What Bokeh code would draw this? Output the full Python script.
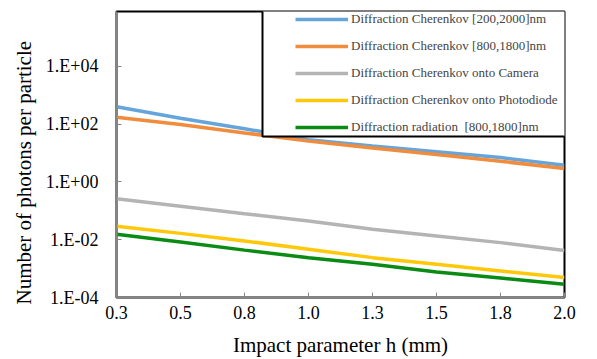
from bokeh.plotting import figure
from bokeh.models import (FixedTicker, CustomJSTickFormatter, Legend, LegendItem,
                          BoxAnnotation, Range1d, Title)
from bokeh.embed import file_html
from bokeh.resources import INLINE

# ---- data ----
h_mm = [0.25, 0.5, 0.75, 1.0, 1.25, 1.5, 1.75, 2.0]
cherenkov_200_2000 = [400, 160, 70, 29, 17.5, 11.2, 7.0, 3.8]
cherenkov_800_1800 = [174, 98, 50, 26, 15, 8.9, 5.2, 2.95]
cherenkov_camera = [0.263, 0.145, 0.0794, 0.0447, 0.0229, 0.0135, 0.00794, 0.00427]
cherenkov_photodiode = [0.0295, 0.0166, 0.00912, 0.00468, 0.0024, 0.00141, 0.000832, 0.00049]
diffraction_radiation = [0.0155, 0.0083, 0.00437, 0.0024, 0.00141, 0.00076, 0.00047, 0.00029]

series_names = [
    "Diffraction Cherenkov [200,2000]nm",
    "Diffraction Cherenkov [800,1800]nm",
    "Diffraction Cherenkov onto Camera",
    "Diffraction Cherenkov onto Photodiode",
    "Diffraction radiation  [800,1800]nm",
]
series_colors = ["#65A5DB", "#F08C3C", "#B4B4B4", "#FFC80A", "#0A8C14"]

x_ticks = [0.25, 0.5, 0.75, 1.0, 1.25, 1.5, 1.75, 2.0]
x_tick_labels = ["0.3", "0.5", "0.8", "1.0", "1.3", "1.5", "1.8", "2.0"]
y_ticks = [1e-4, 1e-2, 1.0, 1e2, 1e4]
y_tick_labels = ["1.E-04", "1.E-02", "1.E+00", "1.E+02", "1.E+04"]

FONT = "Liberation Serif"

p = figure(width=597, height=359, output_backend="svg", toolbar_location=None,
           y_axis_type="log",
           x_range=Range1d(0.25, 2.0), y_range=Range1d(1e-4, 8e5),
           min_border_left=116, min_border_right=33, min_border_top=11,
           min_border_bottom=61)
p.background_fill_color = "white"
p.border_fill_color = "white"
p.outline_line_color = "black"
p.outline_line_width = 2
p.xgrid.visible = False
p.ygrid.visible = False

all_series = [cherenkov_200_2000, cherenkov_800_1800, cherenkov_camera,
              cherenkov_photodiode, diffraction_radiation]
renderers = []
for ys, c in zip(all_series, series_colors):
    r = p.line(h_mm, ys, line_color=c, line_width=3.5)
    renderers.append(r)

# axes
p.xaxis.ticker = FixedTicker(ticks=x_ticks)
p.xaxis.formatter = CustomJSTickFormatter(
    args=dict(tvals=x_ticks, tlabels=x_tick_labels),
    code="for (let i=0;i<tvals.length;i++){ if (Math.abs(tvals[i]-tick)<1e-9) return tlabels[i]; } return '';")
p.yaxis.ticker = FixedTicker(ticks=y_ticks)
p.yaxis.formatter = CustomJSTickFormatter(
    args=dict(tvals=y_ticks, tlabels=y_tick_labels),
    code="for (let i=0;i<tvals.length;i++){ if (Math.abs(Math.log10(tvals[i])-Math.log10(tick))<1e-6) return tlabels[i]; } return '';")

for ax in (p.xaxis[0], p.yaxis[0]):
    ax.axis_line_color = "#868686"
    ax.axis_line_width = 2
    ax.major_tick_line_color = "#868686"
    ax.major_tick_line_width = 1
    ax.major_tick_in = 5
    ax.major_tick_out = 0
    ax.minor_tick_line_color = None
    ax.major_label_text_font = FONT
    ax.major_label_text_font_size = "18px"
    ax.major_label_text_color = "black"
    ax.axis_label_text_font = FONT
    ax.axis_label_text_font_size = "21px"
    ax.axis_label_text_font_style = "normal"
    ax.axis_label_text_color = "black"

p.xaxis.axis_label = "Impact parameter h (mm)"
p.xaxis.major_label_standoff = 8
p.xaxis.axis_label_standoff = 11
p.yaxis.major_label_standoff = 18

ytitle = Title(text="Number of photons per particle", align="left", offset=-7,
               text_font=FONT, text_font_size="21px", text_font_style="normal",
               text_color="black", standoff=13)
p.add_layout(ytitle, "left")

# legend frame
box = BoxAnnotation(left=146, right=480, bottom=161, top=292,
                    left_units="screen", right_units="screen",
                    bottom_units="screen", top_units="screen",
                    fill_color="white", fill_alpha=1.0,
                    line_color="black", line_width=2, line_alpha=1.0)
p.add_layout(box)

legend = Legend(items=[LegendItem(label=n, renderers=[r]) for n, r in zip(series_names, renderers)],
                location=(179, 160), padding=0, spacing=7,
                glyph_width=53, glyph_height=20, label_height=20, label_standoff=3,
                label_text_font=FONT, label_text_font_size="13px",
                background_fill_alpha=0, border_line_alpha=0)
p.add_layout(legend)

open("out.html", "w").write(file_html(p, INLINE))
